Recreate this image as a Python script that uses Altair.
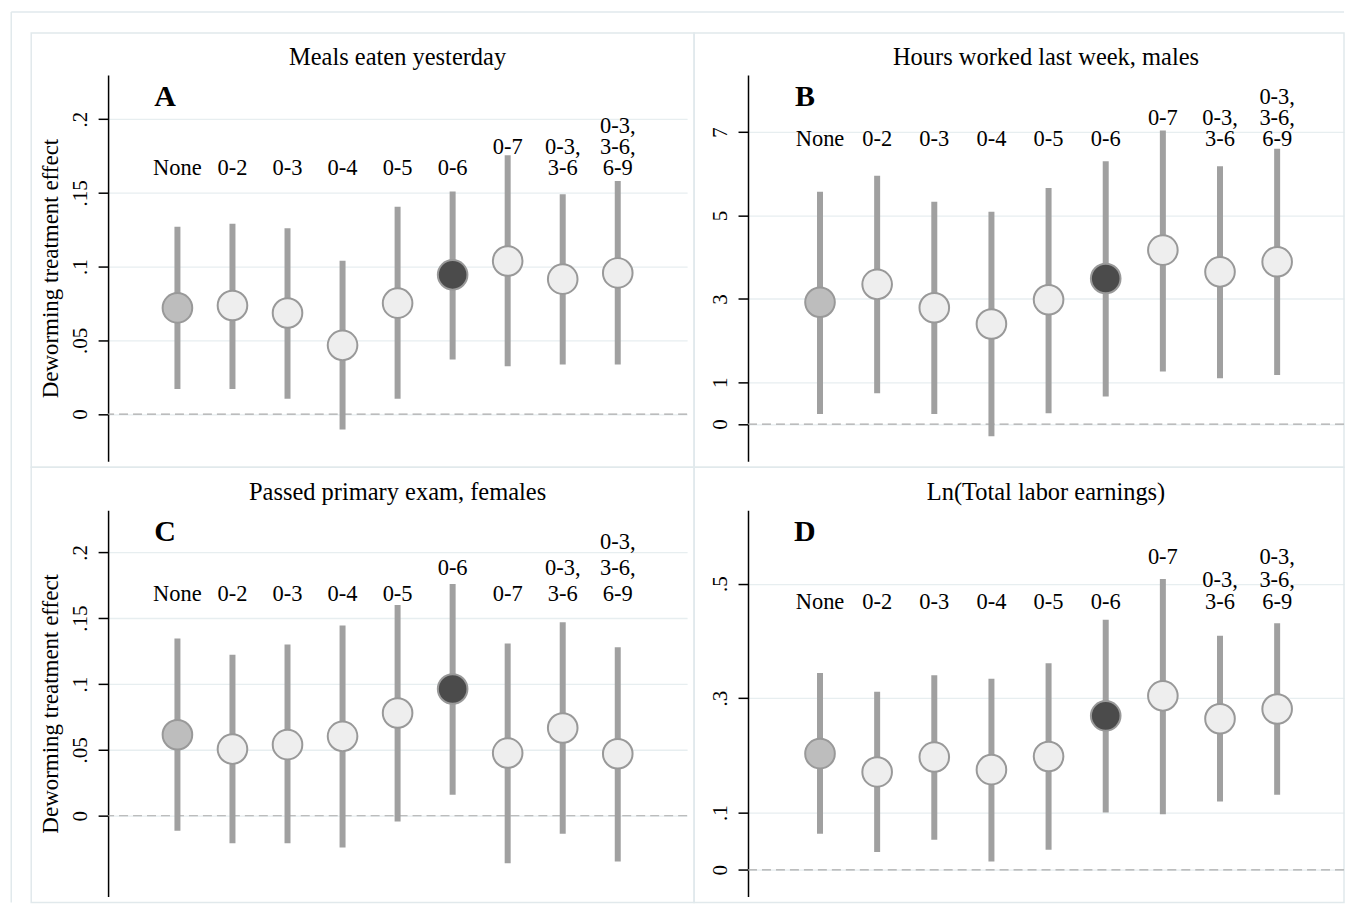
import altair as alt
import pandas as pd

FONT = "Liberation Serif"

positions = [1, 2, 3, 4, 5, 6, 7, 8, 9]
kinds = ["base", "alt", "alt", "alt", "alt", "main", "alt", "alt", "alt"]

# Panel A: Meals eaten yesterday
labels_a = ["None", "0-2", "0-3", "0-4", "0-5", "0-6", "0-7\n", "0-3,\n3-6", "0-3,\n3-6,\n6-9"]
est_a = [0.072, 0.0736, 0.0685, 0.0466, 0.0752, 0.0944, 0.1038, 0.0915, 0.0957]
lo_a = [0.017, 0.017, 0.0104, -0.0104, 0.0104, 0.037, 0.0324, 0.0336, 0.0336]
hi_a = [0.127, 0.129, 0.126, 0.104, 0.1405, 0.151, 0.1755, 0.149, 0.158]

# Panel B: Hours worked last week, males
labels_b = ["None", "0-2", "0-3", "0-4", "0-5", "0-6", "0-7\n", "0-3,\n3-6", "0-3,\n3-6,\n6-9"]
est_b = [2.92, 3.35, 2.79, 2.40, 2.98, 3.49, 4.17, 3.65, 3.89]
lo_b = [0.24, 0.74, 0.24, -0.29, 0.26, 0.66, 1.26, 1.10, 1.18]
hi_b = [5.57, 5.95, 5.33, 5.09, 5.66, 6.30, 7.04, 6.18, 6.60]

# Panel C: Passed primary exam, females
labels_c = ["None", "0-2", "0-3", "0-4", "0-5", "0-6\n", "0-7", "0-3,\n3-6", "0-3,\n3-6,\n6-9"]
est_c = [0.0615, 0.0506, 0.054, 0.0603, 0.078, 0.0962, 0.0476, 0.0666, 0.0471]
lo_c = [-0.0114, -0.0208, -0.0208, -0.0241, -0.0043, 0.016, -0.036, -0.0137, -0.0347]
hi_c = [0.1345, 0.1223, 0.130, 0.1444, 0.160, 0.176, 0.1307, 0.147, 0.128]

# Panel D: Ln(Total labor earnings)
labels_d = ["None", "0-2", "0-3", "0-4", "0-5", "0-6", "0-7\n\n", "0-3,\n3-6", "0-3,\n3-6,\n6-9"]
est_d = [0.203, 0.171, 0.197, 0.175, 0.198, 0.269, 0.304, 0.264, 0.281]
lo_d = [0.063, 0.031, 0.0525, 0.0145, 0.035, 0.100, 0.097, 0.1195, 0.131]
hi_d = [0.344, 0.311, 0.340, 0.334, 0.361, 0.437, 0.508, 0.409, 0.431]

ticks_ac = [0, 0.05, 0.1, 0.15, 0.2]
ticks_b = [0, 1, 3, 5, 7]
ticks_d = [0, 0.1, 0.3, 0.5]

GRID = "#e7eef0"
FRAME = "#e1e9ec"
BAR = "#a0a0a0"
LABEL_EXPR = ("datum.value == 0 ? '0' : (datum.value < 1 ? slice(format(datum.value, '~g'), 1) "
              ": format(datum.value, '~g'))")


def label_rows(labels):
    rows = []
    for pos, s in zip(positions, labels):
        lines = s.split("\n")
        start = 3 - len(lines)
        for i, line in enumerate(lines):
            if line:
                rows.append({"pos": pos, "line": line, "row": start + i})
    return pd.DataFrame(rows)


def panel(title, letter, labels, est, lo, hi, domain, ticks, width, height, xmax,
          base3, line_h, ytitle, frame, outer=False):
    df = pd.DataFrame({"pos": positions, "est": est, "lo": lo, "hi": hi, "kind": kinds})
    ldf = label_rows(labels)
    one = pd.DataFrame({"t": [title], "l": [letter], "z": [0]})

    xenc = alt.X("pos:Q", scale=alt.Scale(domain=[-0.26, xmax], nice=False, zero=False), axis=None)
    yscale = alt.Scale(domain=domain, nice=False, zero=False)
    axis_kw = dict(
        values=ticks, labelExpr=LABEL_EXPR, labelFont=FONT, labelFontSize=21, labelColor="black",
        labelAngle=270, labelAlign="center", labelBaseline="alphabetic", labelPadding=12,
        labelOverlap=False, labelFlush=False,
        tickSize=10, tickWidth=1.5, tickColor="black",
        domainColor="black", domainWidth=1.5,
        grid=True, gridColor=GRID, gridWidth=1.3,
    )
    if ytitle:
        axis_kw.update(title=ytitle, titleFont=FONT, titleFontSize=23, titleFontWeight="normal",
                       titleColor="black", titleAngle=270, titleX=-51, titleY=height / 2,
                       titleBaseline="alphabetic", titleAlign="center")
    else:
        axis_kw.update(title=None)
    yaxis = alt.Axis(**axis_kw)

    layers = []
    fx1, fx2, fy1, fy2 = frame
    layers.append(
        alt.Chart(one).mark_rect(fillOpacity=0, stroke=FRAME, strokeWidth=1.5).encode(
            x=alt.value(fx1), x2=alt.value(fx2), y=alt.value(fy1), y2=alt.value(fy2))
    )
    if outer:
        layers.append(
            alt.Chart(one).mark_rule(color=FRAME, strokeWidth=1.5).encode(
                x=alt.value(-97), x2=alt.value(1238), y=alt.value(-63))
        )
        layers.append(
            alt.Chart(one).mark_rule(color=FRAME, strokeWidth=1.5).encode(
                x=alt.value(-97), y=alt.value(-63), y2=alt.value(829))
        )
    layers.append(
        alt.Chart(one).mark_text(font=FONT, fontSize=24.5, color="black", align="center",
                                 baseline="alphabetic").encode(
            text="t:N", x=alt.value(width / 2), y=alt.value(-10))
    )
    layers.append(
        alt.Chart(one).mark_text(font=FONT, fontSize=30, fontWeight="bold", color="black",
                                 align="center", baseline="alphabetic").encode(
            text="l:N", x=alt.value(57), y=alt.value(31))
    )
    layers.append(
        alt.Chart(one).mark_rule(color="#ababab", strokeWidth=1.2, strokeDash=[9, 5]).encode(
            y=alt.Y("z:Q", scale=yscale, axis=yaxis))
    )
    layers.append(
        alt.Chart(df).mark_rule(color=BAR, strokeWidth=6).encode(
            x=xenc, y=alt.Y("lo:Q", scale=yscale, axis=yaxis), y2="hi:Q")
    )
    layers.append(
        alt.Chart(df).mark_circle(size=880, opacity=1, stroke="#999999", strokeWidth=2).encode(
            x=xenc, y=alt.Y("est:Q", scale=yscale, axis=yaxis),
            fill=alt.Fill("kind:N", scale=alt.Scale(domain=["base", "main", "alt"],
                                                    range=["#bdbdbd", "#4b4b4b", "#eeeeee"]),
                          legend=None))
    )
    for k in range(3):
        layers.append(
            alt.Chart(ldf).transform_filter(f"datum.row == {k}").mark_text(
                font=FONT, fontSize=22.5, color="black", align="center", baseline="alphabetic"
            ).encode(x=xenc, y=alt.value(base3 - (2 - k) * line_h), text="line:N")
        )
    return alt.layer(*layers).properties(width=width, height=height)


H = 387
pa = panel("Meals eaten yesterday", "A", labels_a, est_a, lo_a, hi_a, [-0.032, 0.23], ticks_ac,
           580, H, 10.26, 100, 21, "Deworming treatment effect", (-77, 587, -42, 393), outer=True)
pb = panel("Hours worked last week, males", "B", labels_b, est_b, lo_b, hi_b, [-0.89, 8.37], ticks_b,
           597, H, 10.17, 71, 21, None, (-54, 597, -42, 393))
pc = panel("Passed primary exam, females", "C", labels_c, est_c, lo_c, hi_c, [-0.0613, 0.232], ticks_ac,
           580, H, 10.26, 91, 26, "Deworming treatment effect", (-77, 587, -43, 393))
pd_ = panel("Ln(Total labor earnings)", "D", labels_d, est_d, lo_d, hi_d, [-0.0467, 0.6285], ticks_d,
            597, H, 10.17, 99, 22.5, None, (-54, 597, -43, 393))

chart = alt.concat(pa, pb, pc, pd_, columns=2, spacing={"row": 49, "column": 61},
                   bounds="flush",
                   padding={"left": 1.25, "top": 1.25, "right": 0, "bottom": 0}
                   ).configure_view(stroke="transparent")

chart.save("out.html", embed_options={"renderer": "svg", "actions": False})
